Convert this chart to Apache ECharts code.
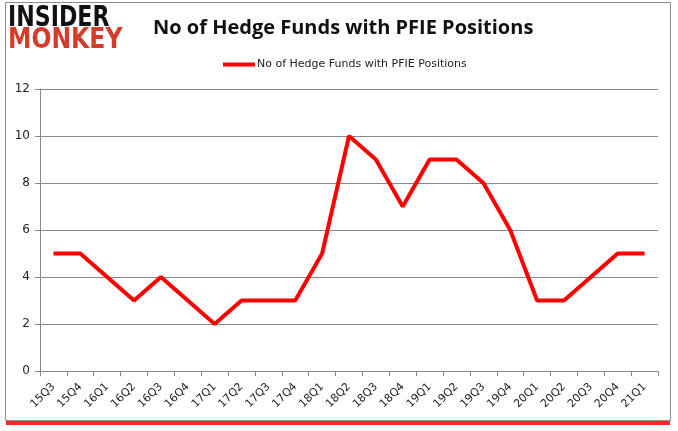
<!DOCTYPE html>
<html><head><meta charset="utf-8">
<script src="https://cdn.jsdelivr.net/npm/echarts@6/dist/echarts.min.js"></script>
<style>html,body{margin:0;padding:0;background:#fff}#c{width:678px;height:431px}</style>
</head><body><div id="c"></div>
<script>
const categories = ['15Q3','15Q4','16Q1','16Q2','16Q3','16Q4','17Q1','17Q2','17Q3','17Q4','18Q1','18Q2','18Q3','18Q4','19Q1','19Q2','19Q3','19Q4','20Q1','20Q2','20Q3','20Q4','21Q1'];
const hedgeFunds = [5,5,4,3,4,3,2,3,3,3,5,10,9,7,9,9,8,6,3,3,4,5,5];
const seriesName = 'No of Hedge Funds with PFIE Positions';
const titleText = 'No of Hedge Funds with PFIE Positions';

const chart = echarts.init(document.getElementById('c'));
chart.setOption({
  animation: false,
  backgroundColor: '#fff',
  graphic: [
    { type: 'rect', z: -1, shape: { x: 6, y: 6, width: 664, height: 419 }, style: { fill: '#ff0000', opacity: 0.85 } },
    { type: 'rect', z: 0, shape: { x: 5.5, y: 2.5, width: 665, height: 418 }, style: { fill: '#fff', stroke: '#8c8c8c', lineWidth: 1 } },
    { type: 'text', z: 5, x: 8, y: 5, scaleX: 0.79, style: { text: 'INSIDER', font: '900 28px "DejaVu Sans"', fill: '#111' } },
    { type: 'text', z: 5, x: 8, y: 27, scaleX: 0.84, style: { text: 'MONKEY', font: '900 28px "DejaVu Sans"', fill: '#d63c2a' } }
  ],
  title: {
    text: titleText, left: 148, top: 13,
    textStyle: { fontFamily: '"Open Sans", "DejaVu Sans", sans-serif', fontWeight: 'bold', fontSize: 20, color: '#111' }
  },
  legend: {
    data: [seriesName], top: 54, left: 218,
    itemWidth: 32, itemHeight: 4, itemGap: 2,
    icon: 'rect',
    textStyle: { fontFamily: '"DejaVu Sans", sans-serif', fontSize: 11, color: '#222', padding: [0,0,0,-3] }
  },
  grid: { left: 40, right: 20, top: 89, bottom: 60, containLabel: false },
  xAxis: {
    type: 'category', data: categories, boundaryGap: true,
    axisLine: { lineStyle: { color: '#888' } },
    axisTick: { show: true, alignWithLabel: false, length: 5, lineStyle: { color: '#888' } },
    axisLabel: { rotate: 45, fontSize: 11, color: '#222', fontFamily: '"DejaVu Sans", sans-serif', margin: 14, interval: 0 }
  },
  yAxis: {
    type: 'value', min: 0, max: 12, interval: 2,
    axisLine: { show: true, lineStyle: { color: '#888' } },
    axisTick: { show: true, length: 5, lineStyle: { color: '#888' } },
    axisLabel: { fontSize: 12, color: '#222', fontFamily: '"DejaVu Sans", sans-serif', margin: 10 },
    splitLine: { lineStyle: { color: '#888' } }
  },
  series: [{
    name: seriesName, type: 'line', data: hedgeFunds,
    symbol: 'none', lineStyle: { color: '#ff0000', width: 4 }, itemStyle: { color: '#ff0000' }
  }]
});
</script></body></html>
